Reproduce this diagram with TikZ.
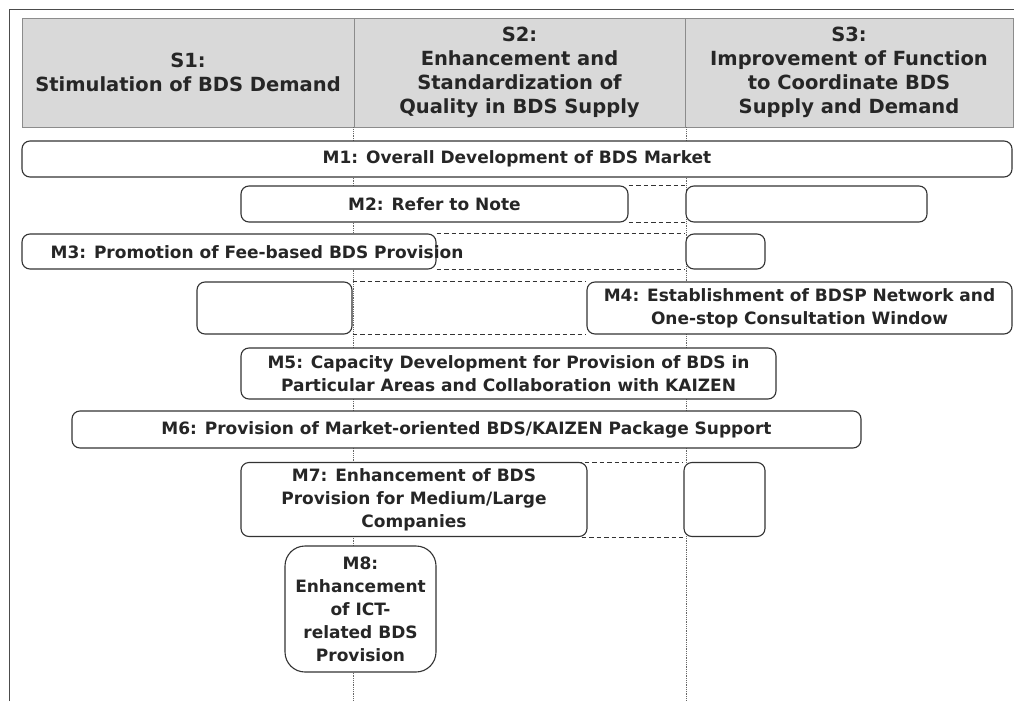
\documentclass[tikz,border=0pt]{standalone}
\usepackage{fontspec}
\setmainfont{DejaVu Sans}
\begin{document}
\begin{tikzpicture}[x=1pt,y=-1pt,
  txt/.style={text=black!85, font=\bfseries\fontsize{17}{23}\selectfont, align=center, inner sep=0pt},
  hdr/.style={draw=black!45, fill=black!15, line width=0.9pt, txt, font=\bfseries\fontsize{19.5}{24}\selectfont},
  mbox/.style={draw=black!80, fill=white, line width=1.1pt, rounded corners=8pt, txt},
  vguide/.style={black!60, densely dotted, line width=0.8pt},
  link/.style={black!80, dash pattern=on 4.5pt off 3pt, line width=0.9pt}]
\useasboundingbox (0,0) rectangle (1014,701);
% outer frame
\draw[black!70, line width=1pt] (9,701) -- (9,10) -- (1014,10);
% strategy headers
\node[hdr, minimum width=332, minimum height=109] (s1) at (188,72.5) {S1:\\Stimulation of BDS Demand};
\node[hdr, minimum width=331, minimum height=109] (s2) at (519.5,72.5) {S2:\\Enhancement and\\Standardization of\\Quality in BDS Supply};
\node[hdr, minimum width=328, minimum height=109] (s3) at (849,72.5) {S3:\\Improvement of Function\\to Coordinate BDS\\Supply and Demand};
% column guides
\coordinate (bot) at (0,701);
\draw[vguide] ([xshift=-1pt]s1.south east) -- ([xshift=-1pt]s1.south east |- bot);
\draw[vguide] ([xshift=1pt]s2.south east) -- ([xshift=1pt]s2.south east |- bot);
% measures
\node[mbox, minimum width=990, minimum height=36] (m1) at (517,159) {M1: Overall Development of BDS Market};
\node[mbox, minimum width=387, minimum height=36] (m2) at (434.5,204) {M2: Refer to Note};
\node[mbox, minimum width=241, minimum height=36] (e2) at (806.5,204) {};
\node[mbox, minimum width=414, minimum height=35] (m3) at (229,251.5) {};
\node[txt] (m3t) at (257,252) {M3: Promotion of Fee-based BDS Provision};
\node[mbox, minimum width=79, minimum height=35] (e3) at (725.5,251.5) {};
\node[mbox, minimum width=155, minimum height=52] (e4) at (274.5,308) {};
\node[mbox, minimum width=425, minimum height=52] (m4) at (799.5,308) {M4: Establishment of BDSP Network and\\One-stop Consultation Window};
\node[mbox, minimum width=535, minimum height=51] (m5) at (508.5,373.5) {M5: Capacity Development for Provision of BDS in\\Particular Areas and Collaboration with KAIZEN};
\node[mbox, minimum width=789, minimum height=37] (m6) at (466.5,429.5) {M6: Provision of Market-oriented BDS/KAIZEN Package Support};
\node[mbox, minimum width=346, minimum height=74] (m7) at (414,499.5) {M7: Enhancement of BDS\\Provision for Medium/Large\\Companies};
\node[mbox, minimum width=81, minimum height=74] (e7) at (724.5,499.5) {};
\node[mbox, rounded corners=20pt, minimum width=151, minimum height=126] (m8) at (360.5,609) {M8:\\Enhancement\\of ICT-\\related BDS\\Provision};
% dashed links between split measures
\draw[link] (m2.north east) -- (e2.north west);
\draw[link] (m2.south east) -- (e2.south west);
\draw[link] (m3.north east) -- (e3.north west);
\draw[link] (m3.south east) -- (e3.south west);
\draw[link] (e4.north east) -- (m4.north west);
\draw[link] (e4.south east) -- (m4.south west);
\draw[link] ([xshift=-18pt]m7.north east) -- (e7.north west);
\draw[link] ([xshift=-6pt]m7.south east) -- (e7.south west);
\end{tikzpicture}
\end{document}
